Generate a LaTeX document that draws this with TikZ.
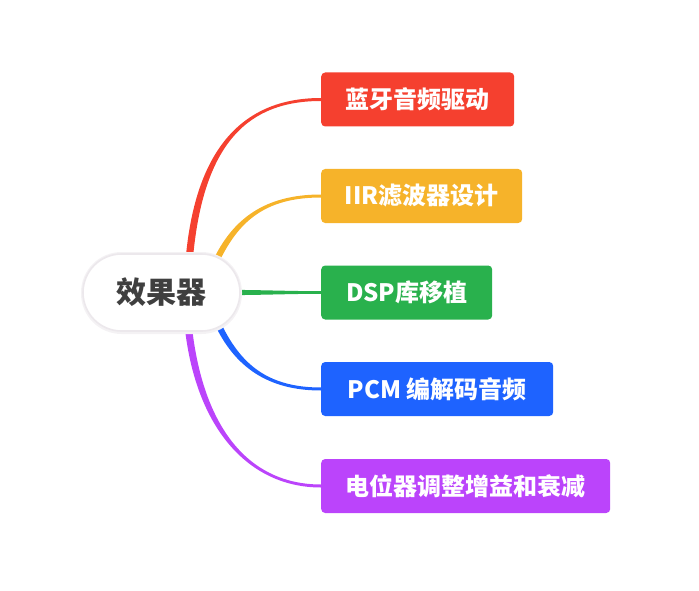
\documentclass[tikz,border=0pt]{standalone}
\usepackage{fontspec}
\newfontfamily\cjk{Noto Sans CJK SC}
\usetikzlibrary{calc,backgrounds}
\definecolor{cred}{HTML}{F5402F}
\definecolor{cyel}{HTML}{F6B32A}
\definecolor{cgrn}{HTML}{29B14D}
\definecolor{cblu}{HTML}{1E63FF}
\definecolor{cpur}{HTML}{BB44FB}
\definecolor{ctext}{HTML}{3F3F3F}
\definecolor{cedge}{HTML}{ECE8EC}
\definecolor{cshade}{HTML}{F4F2F4}
% color, P0, P1, P2, P3, half width start, half width end
\newcommand\taperlink[7]{%
  \coordinate (ta0) at ($(#2)!#6!90:(#3)$);
  \coordinate (tb0) at ($(#2)!#6!-90:(#3)$);
  \coordinate (ta3) at ($(#5)!#7!-90:(#4)$);
  \coordinate (tb3) at ($(#5)!#7!90:(#4)$);
  \fill[#1] (ta0) .. controls ($(#3)+(ta0)-(#2)$) and ($(#4)+(ta3)-(#5)$) .. (ta3)
    -- (tb3) .. controls ($(#4)+(tb3)-(#5)$) and ($(#3)+(tb0)-(#2)$) .. (tb0) -- cycle;
}
\begin{document}
\begin{tikzpicture}[x=1pt,y=-1pt,
  box/.style={rounded corners=4pt, minimum height=54pt, anchor=west, text=white,
    font=\cjk\bfseries\fontsize{24}{24}\selectfont, inner sep=0pt},
  centre/.style={draw=cedge, line width=1.6pt, fill=white, rounded corners=38.5pt,
    minimum width=157pt, minimum height=77pt, inner sep=0pt, text=ctext,
    font=\cjk\bfseries\fontsize{30}{30}\selectfont}]
\useasboundingbox (0,0) rectangle (699,591);
\fill[cshade, rounded corners=40.5pt] (81,252) rectangle (242,334);
\node[centre] (c) at (161.5,292.5) {效果器};
\node[box, fill=cred, minimum width=193pt] (b1) at (321,99.5) {蓝牙音频驱动};
\node[box, fill=cyel, minimum width=201pt] (b2) at (321,196) {IIR滤波器设计};
\node[box, fill=cgrn, minimum width=171pt] (b3) at (321,292.5) {DSP库移植};
\node[box, fill=cblu, minimum width=232pt] (b4) at (321,389) {PCM 编解码音频};
\node[box, fill=cpur, minimum width=289pt] (b5) at (321,486) {电位器调整增益和衰减};
\begin{scope}[on background layer]
  \coordinate (s1) at ($(c.center)+(27.5,-30.5)$);
  \coordinate (s2) at ($(c.center)+(53.5,-29)$);
  \coordinate (s3) at ($(c.center)+(68.5,0)$);
  \coordinate (s4) at ($(c.center)+(55.5,29.5)$);
  \coordinate (s5) at ($(c.center)+(26.5,31.5)$);
  \taperlink{cred}{s1}{199,140}{250,99.5}{b1.west}{3.6pt}{1.5pt}
  \taperlink{cyel}{s2}{235,220}{265,196}{b2.west}{3.1pt}{1.5pt}
  \taperlink{cgrn}{s3}{260,292.5}{290,292.5}{b3.west}{2.6pt}{1.3pt}
  \taperlink{cblu}{s4}{237,365}{267,389}{b4.west}{3.1pt}{1.5pt}
  \taperlink{cpur}{s5}{199,430}{250,486}{b5.west}{3.6pt}{1.5pt}
\end{scope}
\end{tikzpicture}
\end{document}
